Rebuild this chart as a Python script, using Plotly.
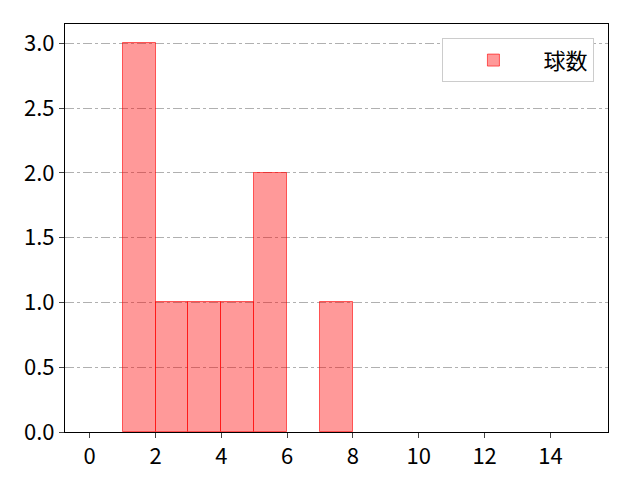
import plotly.graph_objects as go

# histogram bins (left edge) and counts
bin_left = [1, 2, 3, 4, 5, 7]
counts = [3, 1, 1, 1, 2, 1]
bin_width = 1
label = "球数"

x_ticks = [0, 2, 4, 6, 8, 10, 12, 14]
y_ticks = [0.0, 0.5, 1.0, 1.5, 2.0, 2.5, 3.0]

fig = go.Figure()
fig.add_trace(go.Bar(
    x=[b + bin_width / 2 for b in bin_left],
    y=counts,
    width=bin_width,
    name=label,
    marker=dict(color="rgba(255,0,0,0.4)",
                line=dict(color="rgba(255,0,0,0.6)", width=1)),
    showlegend=True,
))

# page body has an 8px margin, so the figure is a bit smaller than the window
fig.update_layout(
    width=624, height=464,
    margin=dict(l=57, r=24, t=16, b=40),
    plot_bgcolor="white", paper_bgcolor="white",
    font=dict(family="Noto Sans CJK JP", size=22, color="black"),
    bargap=0,
    legend=dict(x=0.975, y=0.965, xanchor="right", yanchor="top",
                bordercolor="#cccccc", borderwidth=1,
                font=dict(size=22), itemwidth=90),
)
fig.update_xaxes(range=[-0.75, 15.75], tickvals=x_ticks, showgrid=False,
                 showline=True, linecolor="black", mirror=True,
                 ticks="outside", ticklen=5, zeroline=False, automargin=False)
fig.update_yaxes(range=[0, 3.15], tickvals=y_ticks, tickformat=".1f",
                 showgrid=True, gridcolor="#b0b0b0", griddash="dashdot",
                 showline=True, linecolor="black", mirror=True,
                 ticks="outside", ticklen=5, zeroline=False, automargin=False)

fig.write_html("out.html")
